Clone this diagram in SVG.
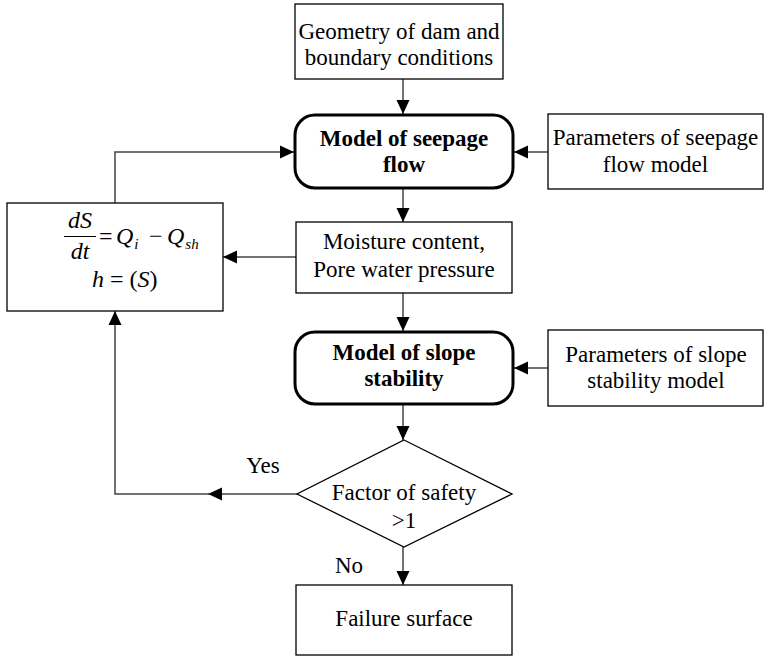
<svg xmlns="http://www.w3.org/2000/svg" width="764" height="657" viewBox="0 0 764 657">
<style>
.box{fill:#fff;stroke:#000;stroke-width:1.3}
.rbox{fill:#fff;stroke:#000;stroke-width:3}
.t{font-family:'Liberation Serif','Times New Roman',Times,'DejaVu Serif',serif;font-size:23px;fill:#000;text-anchor:middle}
.b{font-weight:bold}
.m{font-family:'Liberation Serif','Times New Roman',Times,'DejaVu Serif',serif;font-size:24px;fill:#000;font-style:italic}
.r{font-style:normal}
.sub{font-size:15px}
.c{fill:none;stroke:#444;stroke-width:1.5}
</style>
<defs>
<marker id="ah" markerUnits="userSpaceOnUse" markerWidth="14" markerHeight="14" viewBox="0 0 14 14" refX="14" refY="7" orient="auto">
<path d="M0,0.5 L14,7 L0,13.5 Z" fill="#000"/>
</marker>
</defs>
<g id="connectors">
<path class="c" d="M403,79 V114" marker-end="url(#ah)"/>
<path class="c" d="M548,152 H514" marker-end="url(#ah)"/>
<path class="c" d="M403,189 V222" marker-end="url(#ah)"/>
<path class="c" d="M296,257 H223" marker-end="url(#ah)"/>
<path class="c" d="M115,203 V152 H294" marker-end="url(#ah)"/>
<path class="c" d="M403,293 V331" marker-end="url(#ah)"/>
<path class="c" d="M548,368 H514" marker-end="url(#ah)"/>
<path class="c" d="M403,405 V440" marker-end="url(#ah)"/>
<path class="c" d="M297,494 H208" marker-end="url(#ah)"/>
<path class="c" d="M210,494 H115 V311" marker-end="url(#ah)"/>
<path class="c" d="M403,547 V585" marker-end="url(#ah)"/>
</g>
<g id="geometry">
<rect class="box" x="295" y="4" width="208" height="75"/>
<text class="t" x="399" y="39">Geometry of dam and</text>
<text class="t" x="399" y="65">boundary conditions</text>
</g>
<g id="seepage-model">
<rect class="rbox" x="295" y="115" width="218" height="73" rx="20"/>
<text class="t b" x="404" y="146">Model of seepage</text>
<text class="t b" x="404" y="172">flow</text>
</g>
<g id="seepage-params">
<rect class="box" x="548" y="114" width="215" height="75"/>
<text class="t" x="655.5" y="145">Parameters of seepage</text>
<text class="t" x="655.5" y="172">flow model</text>
</g>
<g id="equation">
<rect class="box" x="7" y="203" width="216" height="108"/>
<text class="m" x="80" y="228" text-anchor="middle">dS</text>
<line x1="64" y1="236.5" x2="96" y2="236.5" stroke="#000" stroke-width="1"/>
<text class="m" x="80" y="259" text-anchor="middle">dt</text>
<text class="m r" x="99" y="244">=</text>
<text class="m" x="116" y="244">Q<tspan class="sub" dx="1" dy="5">i</tspan></text>
<text class="m r" x="149" y="244">−</text>
<text class="m" x="167" y="244">Q<tspan class="sub" dx="1" dy="5">sh</tspan></text>
<text class="m" x="92" y="287">h<tspan class="r"> = (</tspan>S<tspan class="r">)</tspan></text>
</g>
<g id="moisture">
<rect class="box" x="296" y="222" width="216" height="71"/>
<text class="t" x="404" y="249">Moisture content,</text>
<text class="t" x="404" y="277">Pore water pressure</text>
</g>
<g id="slope-model">
<rect class="rbox" x="295" y="332" width="218" height="72" rx="20"/>
<text class="t b" x="404" y="360">Model of slope</text>
<text class="t b" x="404" y="386">stability</text>
</g>
<g id="slope-params">
<rect class="box" x="548" y="330" width="215" height="76"/>
<text class="t" x="656" y="362">Parameters of slope</text>
<text class="t" x="656" y="388">stability model</text>
</g>
<g id="decision">
<polygon class="box" points="404,440 512,494 404,547 297,494"/>
<text class="t" x="404" y="500">Factor of safety</text>
<text class="t" x="404" y="528">&gt;1</text>
</g>
<g id="failure">
<rect class="box" x="296" y="585" width="216" height="70"/>
<text class="t" x="404" y="626">Failure surface</text>
</g>
<g id="labels">
<text class="t" x="263" y="473">Yes</text>
<text class="t" x="349" y="573">No</text>
</g>
</svg>
